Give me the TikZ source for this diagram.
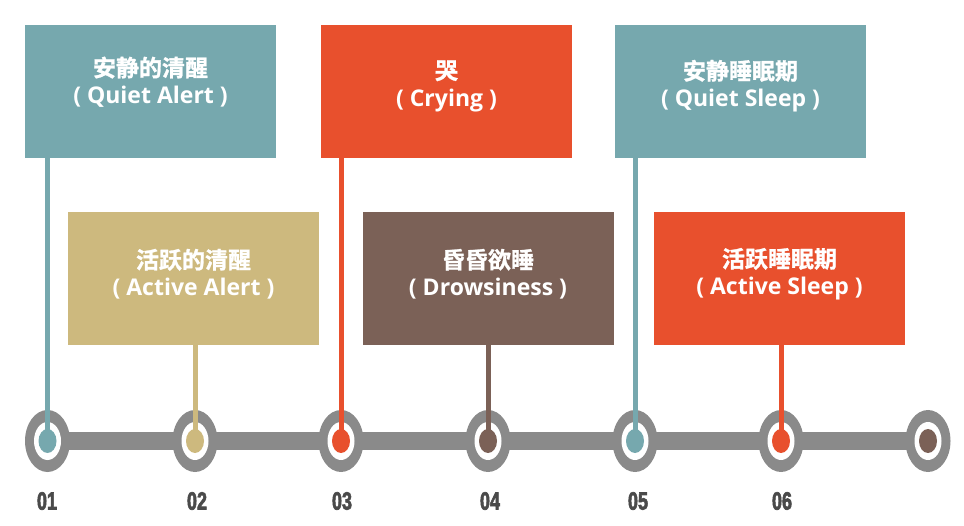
\documentclass[tikz,border=0pt]{standalone}
\usepackage{fontspec}
\setmainfont{Open Sans}
\newfontfamily\cjk{Noto Sans CJK SC}[BoldFont={Noto Sans CJK SC Bold}, BoldFeatures={FakeBold=1.2}]
\newfontfamily\numfont{Liberation Sans}[BoldFeatures={FakeBold=3}]
\usetikzlibrary{shapes.geometric}
\definecolor{teal}{HTML}{76A8AE}
\definecolor{tan}{HTML}{CDB97E}
\definecolor{orng}{HTML}{E8502D}
\definecolor{brwn}{HTML}{7B6157}
\definecolor{bargrey}{HTML}{8A8A8A}
\definecolor{numgrey}{HTML}{4A4A4A}
\tikzset{
  box/.style={fill=#1, draw=none, minimum width=251pt, minimum height=133pt, anchor=north west, inner sep=0pt},
  boxtext/.style={text=white, align=center, font=\bfseries\fontsize{23}{27}\selectfont},
  outerring/.style={fill=bargrey, draw=none, ellipse, minimum width=45pt, minimum height=62pt, inner sep=0pt},
  whitering/.style={fill=white, draw=none, ellipse, minimum width=27pt, minimum height=38pt, inner sep=0pt},
  dot/.style={fill=#1, draw=none, ellipse, minimum width=18pt, minimum height=24pt, inner sep=0pt},
  stem/.style={draw=#1, line width=5pt},
  numlabel/.style={text=numgrey, font=\numfont\bfseries\fontsize{25}{25}\selectfont, inner sep=0pt}
}
\begin{document}
\begin{tikzpicture}[x=1pt,y=-1pt]
\useasboundingbox (0,0) rectangle (964,526);
% boxes
\node[box=teal] (b1) at (25,25) {};
\node[box=tan]  (b2) at (68,212) {};
\node[box=orng] (b3) at (321,25) {};
\node[box=brwn] (b4) at (363,212) {};
\node[box=teal] (b5) at (615,25) {};
\node[box=orng] (b6) at (654,212) {};
% texts
\node[boxtext] (t1) at (150.5,82) {{\cjk\bfseries 安静的清醒}\\( Quiet Alert )};
\node[boxtext] (t2) at (193.5,274) {{\cjk\bfseries 活跃的清醒}\\( Active Alert )};
\node[boxtext] (t3) at (446.5,86) {{\cjk\bfseries 哭}\\( Crying )};
\node[boxtext] (t4) at (488,274) {{\cjk\bfseries 昏昏欲睡}\\( Drowsiness )};
\node[boxtext] (t5) at (740.5,86) {{\cjk\bfseries 安静睡眠期}\\( Quiet Sleep )};
\node[boxtext] (t6) at (779.5,274) {{\cjk\bfseries 活跃睡眠期}\\( Active Sleep )};
% timeline bar
\coordinate (p1) at (47.5,441);
\coordinate (p2) at (195,441);
\coordinate (p3) at (341,441);
\coordinate (p4) at (488,441);
\coordinate (p5) at (635,441);
\coordinate (p6) at (781,441);
\coordinate (p7) at (928,441);
\draw[bargrey, line width=17pt] (p1) -- (p7);
\foreach \i in {1,...,7} {
  \node[outerring] (o\i) at (p\i) {};
  \node[whitering] (w\i) at (p\i) {};
}
% stems
\draw[stem=teal] (b1.south -| p1) -- (p1);
\draw[stem=tan]  (b2.south -| p2) -- (p2);
\draw[stem=orng] (b3.south -| p3) -- (p3);
\draw[stem=brwn] (b4.south -| p4) -- (p4);
\draw[stem=teal] (b5.south -| p5) -- (p5);
\draw[stem=orng] (b6.south -| p6) -- (p6);
% dots
\node[dot=teal] (d1) at (p1) {};
\node[dot=tan]  (d2) at (p2) {};
\node[dot=orng] (d3) at (p3) {};
\node[dot=brwn] (d4) at (p4) {};
\node[dot=teal] (d5) at (p5) {};
\node[dot=orng] (d6) at (p6) {};
\node[dot=brwn] (d7) at (p7) {};
% numbers
\node[numlabel] (n1) at (47,501) {\scalebox{0.72}[1]{01}};
\node[numlabel] (n2) at (197,501) {\scalebox{0.72}[1]{02}};
\node[numlabel] (n3) at (342,501) {\scalebox{0.72}[1]{03}};
\node[numlabel] (n4) at (490,501) {\scalebox{0.72}[1]{04}};
\node[numlabel] (n5) at (638,501) {\scalebox{0.72}[1]{05}};
\node[numlabel] (n6) at (782,501) {\scalebox{0.72}[1]{06}};
\end{tikzpicture}
\end{document}
